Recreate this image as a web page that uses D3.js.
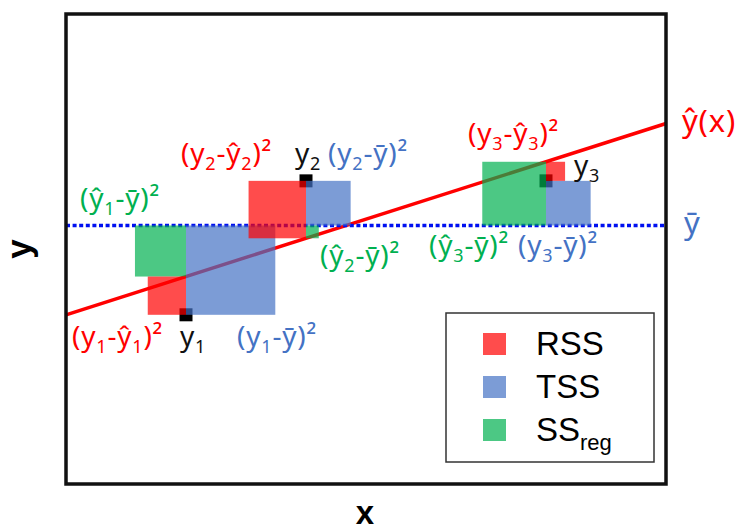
<!DOCTYPE html>
<html>
<head>
<meta charset="utf-8">
<script src="https://cdn.jsdelivr.net/npm/d3@7"></script>
<style>
  body { margin: 0; background: #fff; }
  svg { display: block; }
</style>
</head>
<body>
<svg width="742" height="530"></svg>
<script>
// observations
const xVals = [2, 4, 8];
const yVals = [3.6, 6.45, 6.45];
const yMean = 5.5;
// fitted line, read at both ends of the x range
const fitX = [0, 10];
const fitY = [3.6, 7.67];

const pointNames = ["y_1", "y_2", "y_3"];
const legendNames = ["RSS", "TSS", "SS_reg"];

const RED = "#ff0000", BLUE = "#4472c4", GREEN = "#00b050";
const FONT = "'Noto Sans', 'Open Sans', 'DejaVu Sans', sans-serif";

let svg = d3.select("svg");

var x = d3.scaleLinear().domain([0, 10]).range([66, 666]);
var y = d3.scaleLinear().domain([0, 10]).range([484, 14]);
var fit = d3.scaleLinear().domain(fitX).range(fitY);

var g = svg.append("g");

// regression line
g.append("line")
  .attr("x1", x(fitX[0])).attr("y1", y(fitY[0]))
  .attr("x2", x(fitX[1])).attr("y2", y(fitY[1]))
  .style("stroke", RED)
  .style("stroke-width", 3.5);

// mean line
g.append("line")
  .attr("x1", x(0)).attr("x2", x(10))
  .attr("y1", y(yMean)).attr("y2", y(yMean))
  .style("stroke", "#0010f0")
  .style("stroke-width", 3.4)
  .style("stroke-dasharray", "4 2.6");

// data points
g.selectAll("rect.pt")
  .data(xVals)
  .enter()
  .append("rect")
  .attr("class", "pt")
  .attr("x", (d) => x(d) - 6.5)
  .attr("y", (d, i) => y(yVals[i]) - 6.5)
  .attr("width", 13)
  .attr("height", 13)
  .attr("fill", "#000");

// squares: which side of the point each one sits on (-1 left, 1 right)
var squares = [];
xVals.forEach(function (xv, i) {
  let yh = fit(xv);
  squares.push({ i: i, a: yVals[i], b: yMean, color: BLUE, dir: 1 });
  squares.push({ i: i, a: yh, b: yMean, color: GREEN, dir: [-1, 1, -1][i] });
  squares.push({ i: i, a: yVals[i], b: yh, color: RED, dir: [-1, -1, 1][i] });
});

g.selectAll("rect.sq")
  .data(squares)
  .enter()
  .append("rect")
  .attr("class", "sq")
  .each(function (d) {
    let side = Math.abs(y(d.a) - y(d.b));
    let px = x(xVals[d.i]);
    d3.select(this)
      .attr("x", d.dir < 0 ? px - side : px)
      .attr("y", Math.min(y(d.a), y(d.b)))
      .attr("width", side)
      .attr("height", side);
  })
  .attr("fill", (d) => d.color)
  .attr("fill-opacity", 0.7);

// frame
g.append("rect")
  .attr("x", 66).attr("y", 14)
  .attr("width", 600).attr("height", 470)
  .attr("fill", "none")
  .style("stroke", "#111")
  .style("stroke-width", 3.5);

// text with "_" marking a one-word subscript
function addText(sel, str, size, subSize, shift) {
  let parts = str.split("_");
  sel.append("tspan").text(parts[0]);
  for (let k = 1; k < parts.length; k++) {
    let m = parts[k].match(/^([0-9a-z]+)(.*)$/);
    sel.append("tspan").attr("dy", shift).style("font-size", subSize + "px").text(m[1]);
    if (m[2]) sel.append("tspan").attr("dy", -shift).style("font-size", size + "px").text(m[2]);
    else sel.append("tspan").attr("dy", -shift).text("");
  }
}

function label(str, color, px, py, size) {
  size = size || 28;
  let t = g.append("text")
    .attr("x", px).attr("y", py)
    .attr("fill", color)
    .style("font-family", FONT)
    .style("font-size", size + "px")
    .style("letter-spacing", "0.8px");
  addText(t, str, size, Math.round(size * 0.66), 7);
  return t;
}

// annotations, anchored on the points / fitted values / mean
var p = xVals.map((d, i) => [x(d), y(yVals[i]), y(fit(d))]);
var ym = y(yMean);

label("(ŷ_1-ȳ)²", GREEN, p[0][0] - 106, ym - 18);
label("(y_1-ŷ_1)²", RED, p[0][0] - 114, p[0][1] + 31);
label(pointNames[0], "#111", p[0][0] - 6, p[0][1] + 31);
label("(y_1-ȳ)²", BLUE, p[0][0] + 51, p[0][1] + 31);

label("(y_2-ŷ_2)²", RED, p[1][0] - 125, p[1][1] - 18);
label(pointNames[1], "#111", p[1][0] - 11, p[1][1] - 18);
label("(y_2-ȳ)²", BLUE, p[1][0] + 22, p[1][1] - 18);
label("(ŷ_2-ȳ)²", GREEN, p[1][0] + 14, ym + 39);

label("(y_3-ŷ_3)²", RED, p[2][0] - 78, p[2][2] - 19);
label(pointNames[2], "#111", p[2][0] + 28, p[2][1] - 6);
label("(ŷ_3-ȳ)²", GREEN, p[2][0] - 117, ym + 29);
label("(y_3-ȳ)²", BLUE, p[2][0] - 28, ym + 29);

label("ŷ(x)", RED, x(10) + 16, y(fitY[1]) + 8, 31);
label("ȳ", BLUE, x(10) + 18, ym + 8, 31);

// axis titles
g.append("text")
  .attr("x", 365).attr("y", 524)
  .attr("text-anchor", "middle")
  .style("font-family", "'Liberation Sans', Arial, sans-serif")
  .style("font-weight", "bold")
  .style("font-size", "33px")
  .text("x");

g.append("text")
  .attr("transform", "translate(31,249) rotate(-90)")
  .attr("text-anchor", "middle")
  .style("font-family", "'Liberation Sans', Arial, sans-serif")
  .style("font-weight", "bold")
  .style("font-size", "35px")
  .text("y");

// legend
var legend = g.append("g");
legend.append("rect")
  .attr("x", 446).attr("y", 313)
  .attr("width", 208).attr("height", 149)
  .attr("fill", "#fff")
  .style("stroke", "#333")
  .style("stroke-width", 1.5);

var items = legend.selectAll("g.item")
  .data(legendNames)
  .enter()
  .append("g")
  .attr("class", "item")
  .attr("transform", (d, i) => "translate(483," + (333 + i * 43) + ")");

items.append("rect")
  .attr("width", 23).attr("height", 22)
  .attr("fill", (d, i) => [RED, BLUE, GREEN][i])
  .attr("fill-opacity", 0.7);

items.append("text")
  .attr("x", 53).attr("y", 22)
  .style("font-family", "'Liberation Sans', Arial, sans-serif")
  .style("font-size", "33px")
  .each(function (d) {
    addText(d3.select(this), d, 33, 22, 9);
  });
</script>
</body>
</html>
